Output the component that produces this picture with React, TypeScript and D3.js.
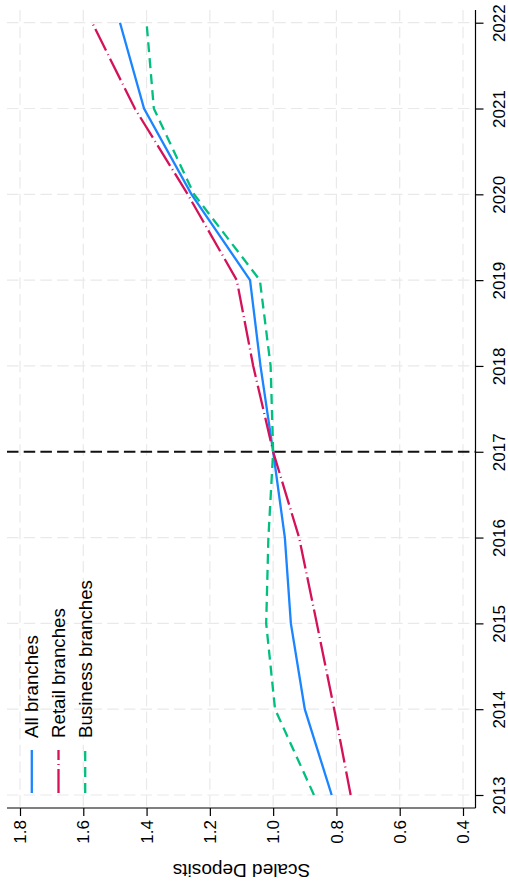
import React from "react";
import { select, scaleLinear, line, axisRight, axisBottom } from "d3";

// chart is drawn turned a quarter turn: years run down the right edge, values along the bottom
const years = [2013, 2014, 2015, 2016, 2017, 2018, 2019, 2020, 2021, 2022];
const allBranches = [0.815, 0.9, 0.944, 0.963, 1.0, 1.04, 1.073, 1.258, 1.408, 1.484];
const retailBranches = [0.755, 0.807, 0.862, 0.918, 1.0, 1.063, 1.115, 1.27, 1.437, 1.572];
const businessBranches = [0.871, 0.994, 1.022, 1.015, 1.0, 1.008, 1.042, 1.25, 1.377, 1.4];
const valueTicks = [1.8, 1.6, 1.4, 1.2, 1.0, 0.8, 0.6, 0.4];
const eventYear = 2017;

const series = [
  { name: "All branches", values: allBranches, color: "#1a85ff", dash: "none" },
  { name: "Retail branches", values: retailBranches, color: "#d41159", dash: "24 4 1 4" },
  { name: "Business branches", values: businessBranches, color: "#00bf7f", dash: "10 6" },
];

const W = 508;
const H = 890;
const FONT = "'Liberation Sans', Arial, Helvetica, sans-serif";

export default function App() {
  const svgRef = React.useRef<SVGSVGElement>(null);

  React.useEffect(() => {
    const svg = select(svgRef.current);
    svg.selectAll("*").remove();

    const region = { left: 7, right: 475.5, top: 10, bottom: 808 };

    const y = scaleLinear().domain([2013, 2022]).range([795, 22.7]);
    const x = scaleLinear().domain([1.8, 0.4]).range([20, 463]);

    svg.append("rect").attr("width", W).attr("height", H).attr("fill", "#fff");

    // grid
    const grid = svg.append("g").attr("stroke", "#e9e9e9").attr("stroke-width", 1.2).attr("stroke-dasharray", "11.5 5.2");
    grid
      .selectAll("line.v")
      .data(valueTicks)
      .join("line")
      .attr("class", "v")
      .attr("x1", (d) => x(d))
      .attr("x2", (d) => x(d))
      .attr("y1", region.top)
      .attr("y2", region.bottom);
    grid
      .selectAll("line.h")
      .data(years.filter((d) => d !== eventYear))
      .join("line")
      .attr("class", "h")
      .attr("x1", region.left)
      .attr("x2", region.right)
      .attr("y1", (d) => y(d))
      .attr("y2", (d) => y(d));

    // event line
    svg
      .append("line")
      .attr("x1", region.left)
      .attr("x2", region.right)
      .attr("y1", y(eventYear))
      .attr("y2", y(eventYear))
      .attr("stroke", "#111")
      .attr("stroke-width", 2)
      .attr("stroke-dasharray", "11.5 5.2");

    // series
    const path = line<number>()
      .x((d) => x(d))
      .y((_, i) => y(years[i]));

    series.forEach((s) => {
      svg
        .append("path")
        .attr("d", path(s.values))
        .attr("fill", "none")
        .attr("stroke", s.color)
        .attr("stroke-width", 2.3)
        .attr("stroke-dasharray", s.dash);
    });

    // year axis (right)
    const yearAxis = svg
      .append("g")
      .attr("transform", `translate(${region.right},0)`)
      .call(axisRight(y).tickValues(years).tickFormat((d) => `${d}`).tickSize(8).tickSizeOuter(0));
    yearAxis.select(".domain").attr("d", `M0,${region.top}V${region.bottom}`).attr("stroke", "#000").attr("stroke-width", 1.2);
    yearAxis.selectAll(".tick line").attr("stroke", "#000").attr("stroke-width", 1.2);
    yearAxis
      .selectAll(".tick text")
      .attr("transform", "rotate(-90)")
      .attr("x", 0)
      .attr("y", 29)
      .attr("dy", 0)
      .attr("text-anchor", "middle")
      .attr("font-family", FONT)
      .attr("font-size", 17)
      .attr("fill", "#000");

    // value axis (bottom)
    const valueAxis = svg
      .append("g")
      .attr("transform", `translate(0,${region.bottom})`)
      .call(axisBottom(x).tickValues(valueTicks).tickFormat((d) => Number(d).toFixed(1)).tickSize(8).tickSizeOuter(0));
    valueAxis.select(".domain").attr("d", `M${region.left},0H${region.right}`).attr("stroke", "#000").attr("stroke-width", 1.2);
    valueAxis.selectAll(".tick line").attr("stroke", "#000").attr("stroke-width", 1.2);
    valueAxis
      .selectAll(".tick text")
      .attr("transform", "rotate(-90)")
      .attr("x", -12)
      .attr("y", 0)
      .attr("dy", "0.33em")
      .attr("text-anchor", "end")
      .attr("font-family", FONT)
      .attr("font-size", 17)
      .attr("fill", "#000");

    // axis title, upside down
    svg
      .append("text")
      .attr("transform", `translate(${(x(1.8) + x(0.4)) / 2},863.5) rotate(180)`)
      .attr("text-anchor", "middle")
      .attr("font-family", FONT)
      .attr("font-size", 19)
      .attr("fill", "#000")
      .text("Scaled Deposits");

    // legend
    const legend = svg.append("g");
    series.forEach((s, i) => {
      const cx = 31.8 + i * 26.7;
      legend
        .append("line")
        .attr("x1", cx)
        .attr("x2", cx)
        .attr("y1", 793)
        .attr("y2", 750)
        .attr("stroke", s.color)
        .attr("stroke-width", 2.3)
        .attr("stroke-dasharray", s.dash);
      legend
        .append("text")
        .attr("transform", `translate(${cx},738) rotate(-90)`)
        .attr("dy", "0.35em")
        .attr("font-family", FONT)
        .attr("font-size", 18.7)
        .attr("fill", "#000")
        .text(s.name);
    });
  }, []);

  return (
    <svg
      ref={svgRef}
      width={W}
      height={H}
      style={{ position: "absolute", left: 0, top: 0, display: "block" }}
    />
  );
}
